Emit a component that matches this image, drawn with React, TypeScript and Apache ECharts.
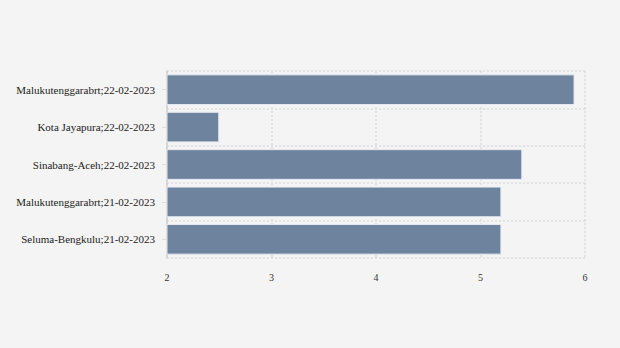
import React, { useEffect, useRef } from "react";
import * as echarts from "echarts";

const categories = [
  "Malukutenggarabrt;22-02-2023",
  "Kota Jayapura;22-02-2023",
  "Sinabang-Aceh;22-02-2023",
  "Malukutenggarabrt;21-02-2023",
  "Seluma-Bengkulu;21-02-2023",
];
const values = [5.9, 2.5, 5.4, 5.2, 5.2];
const xTicks = [2, 3, 4, 5, 6];

export default function App() {
  const ref = useRef<HTMLDivElement>(null);
  useEffect(() => {
    if (!ref.current) return;
    const chart = echarts.init(ref.current, undefined, { renderer: "svg" });
    chart.setOption({
      animation: false,
      backgroundColor: "#f4f4f4",
      textStyle: { fontFamily: "Liberation Serif" },
      grid: { left: 167, right: 35, top: 71, bottom: 90, containLabel: false },
      xAxis: {
        type: "value",
        min: xTicks[0],
        max: xTicks[xTicks.length - 1],
        interval: 1,
        axisLine: { show: false },
        axisTick: { show: false },
        axisLabel: { color: "#333", fontSize: 10, fontFamily: "Liberation Serif", margin: 14 },
        splitLine: { show: true, lineStyle: { color: "#dcdcdc", type: [2, 2], width: 1.5 } },
      },
      yAxis: {
        type: "category",
        inverse: true,
        data: categories,
        axisLine: { show: true, lineStyle: { color: "#cfcfcf", width: 1.5 } },
        axisTick: { show: true, alignWithLabel: true, length: 5, lineStyle: { color: "#dedede" } },
        axisLabel: { color: "#222", fontSize: 11, fontFamily: "Liberation Serif", margin: 12 },
        splitLine: { show: true, lineStyle: { color: "#dcdcdc", type: [2, 2], width: 1.5 } },
      },
      series: [
        {
          type: "bar",
          data: values,
          barCategoryGap: "18%",
          itemStyle: { color: "#6e849e", borderColor: "#e6eaf0", borderWidth: 1 },
        },
      ],
    });
    return () => chart.dispose();
  }, []);
  return <div ref={ref} style={{ width: 620, height: 348, position: "absolute", left: 0, top: 0 }} />;
}
